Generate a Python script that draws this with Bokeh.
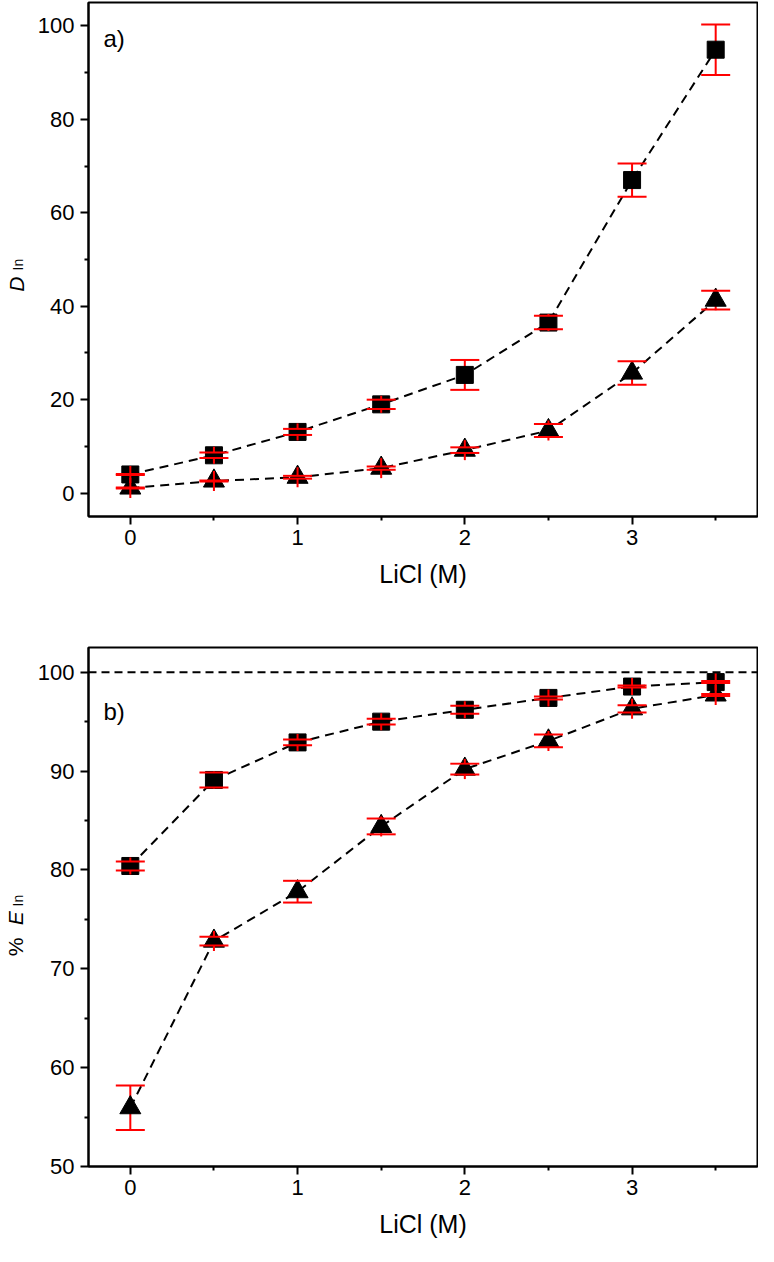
import numpy as np
from bokeh.plotting import figure
from bokeh.models import Range1d, FixedTicker, Label, Span
from bokeh.layouts import column, row
from bokeh.embed import file_html
from bokeh.resources import INLINE

# ---------------- data ----------------
licl = [0.0, 0.5, 1.0, 1.5, 2.0, 2.5, 3.0, 3.5]

# panel a) D_In
d_sq = [4.0, 8.1, 13.1, 19.0, 25.3, 36.5, 67.0, 94.9]
d_sq_err = [0.1, 0.6, 0.65, 1.0, 3.2, 1.45, 3.55, 5.4]
d_tri = [1.1, 2.6, 3.4, 5.35, 9.2, 13.4, 25.7, 41.3]
d_tri_err = [0.1, 0.1, 0.3, 0.35, 0.6, 1.4, 2.5, 2.0]

# panel b) % E_In
e_sq = [80.4, 89.1, 92.9, 95.0, 96.2, 97.4, 98.55, 99.0]
e_sq_err = [0.45, 0.75, 0.3, 0.3, 0.4, 0.15, 0.1, 0.1]
e_tri = [55.95, 72.8, 77.8, 84.4, 90.2, 93.05, 96.3, 97.7]
e_tri_err = [2.25, 0.45, 1.1, 0.8, 0.55, 0.65, 0.37, 0.1]

x_major = [0, 1, 2, 3]
x_minor = [0.5, 1.5, 2.5, 3.5]
ya_major = [0, 20, 40, 60, 80, 100]
ya_minor = [10, 30, 50, 70, 90]
yb_major = [50, 60, 70, 80, 90, 100]
yb_minor = [55, 65, 75, 85, 95]

# ---------------- style ----------------
FONT = "Liberation Sans"
RED = "#ff0000"
X0, X1 = -0.25, 3.75
WL = 30            # width of the strip holding the rotated y label
W = 758 - WL
BL, BR = 88 - WL, 1
PAGE_FRAME_LEFT = 8 + WL + BL


def build(height, bt, bb, yr, ymaj, ymin, sq, sq_err, tri, tri_err,
          tag, tag_y, ylab, hline=None):
    y_range = Range1d(*yr)
    p = figure(width=W, height=height, output_backend="svg", toolbar_location=None,
               x_range=Range1d(X0, X1), y_range=y_range,
               min_border_left=BL, min_border_right=BR,
               min_border_top=bt, min_border_bottom=bb)
    frame_h = height - bt - bb
    frame_w = W - BL - BR
    ppu_y = frame_h / (yr[1] - yr[0])
    ppu_x = frame_w / (X1 - X0)

    p.grid.visible = False
    p.outline_line_color = "black"
    p.outline_line_width = 2
    p.outline_line_alpha = 1
    p.background_fill_color = "white"
    p.border_fill_color = "white"

    p.xaxis.ticker = FixedTicker(ticks=x_major, minor_ticks=x_minor)
    p.yaxis.ticker = FixedTicker(ticks=ymaj, minor_ticks=ymin)
    for ax in (p.xaxis[0], p.yaxis[0]):
        ax.axis_line_width = 2
        ax.axis_line_color = "black"
        ax.major_tick_line_width = 2
        ax.minor_tick_line_width = 2
        ax.major_tick_line_color = "black"
        ax.minor_tick_line_color = "black"
        ax.major_tick_out = 8
        ax.major_tick_in = 0
        ax.minor_tick_out = 4
        ax.minor_tick_in = 0
        ax.major_label_text_font = FONT
        ax.major_label_text_font_size = "22px"
        ax.major_label_text_color = "black"
    p.xaxis.major_label_standoff = 5
    p.yaxis.major_label_standoff = 6
    p.xaxis.axis_label = "LiCl (M)"
    p.xaxis.axis_label_text_font = FONT
    p.xaxis.axis_label_text_font_size = "25px"
    p.xaxis.axis_label_text_font_style = "normal"
    p.xaxis.axis_label_text_color = "black"
    p.xaxis.axis_label_standoff = 12

    if hline is not None:
        p.add_layout(Span(location=hline, dimension="width", line_color="black",
                          line_dash="8 5", line_width=2, level="underlay"))

    x = np.array(licl)
    series = [
        (np.array(sq), np.array(sq_err), "square", 17, 8.5),
        (np.array(tri), np.array(tri_err), "triangle", 21, 10.0),
    ]
    for y, e, m, s, half in series:
        p.line(x, y, line_color="black", line_width=2, line_dash="9 6")
    for y, e, m, s, half in series:
        p.segment(x0=x, y0=y - e, x1=x, y1=y + e, line_color=RED, line_width=2)
    for y, e, m, s, half in series:
        p.scatter(x, y, marker=m, size=s, fill_color="black", line_color="black")
    for y, e, m, s, half in series:
        hd = half / ppu_y
        small = e < hd
        xs, ys, es = x[small], y[small], e[small]
        p.segment(x0=xs, y0=ys + es, x1=xs, y1=ys + hd, line_color=RED, line_width=2)
        p.segment(x0=xs, y0=ys - hd, x1=xs, y1=ys - es, line_color=RED, line_width=2)
    for y, e, m, s, half in series:
        p.scatter(x, y + e, marker="dash", size=29, line_color=RED, line_width=2)
        p.scatter(x, y - e, marker="dash", size=29, line_color=RED, line_width=2)

    p.add_layout(Label(x=X0 + (111 - PAGE_FRAME_LEFT) / ppu_x, y=tag_y, text=tag,
                       text_font=FONT, text_font_size="24px", text_color="black",
                       text_align="left", text_baseline="alphabetic"))

    # narrow strip on the left carrying the rotated y-axis label
    q = figure(width=WL, height=height, output_backend="svg", toolbar_location=None,
               x_range=Range1d(0, WL), y_range=y_range,
               x_axis_location=None, y_axis_location=None,
               min_border_left=0, min_border_right=0,
               min_border_top=bt, min_border_bottom=bb)
    q.grid.visible = False
    q.outline_line_color = None
    q.background_fill_color = "white"
    q.border_fill_color = "white"
    for txt, yv, size, style, px in ylab:
        q.add_layout(Label(x=px - 8, y=yv, text=txt, angle=np.pi / 2,
                           text_font=FONT, text_font_size=size,
                           text_font_style=style, text_color="black",
                           text_align="center", text_baseline="alphabetic"))
    return row(q, p)


pa = build(596, 2, 80, (-5, 105), ya_major, ya_minor,
           d_sq, d_sq_err, d_tri, d_tri_err, "a)", 97.3,
           [("D", 44.7, "21px", "italic", 23.5), ("In", 48.9, "14px", "normal", 25.5)])
pb = build(649, 51, 79, (50, 102.5), yb_major, yb_minor,
           e_sq, e_sq_err, e_tri, e_tri_err, "b)", 96.0,
           [("%", 72.2, "21px", "normal", 23), ("E", 75.1, "21px", "italic", 23),
            ("In", 76.9, "14px", "normal", 25)],
           hline=100)

layout = column(pa, pb)
open("out.html", "w").write(file_html(layout, INLINE))
